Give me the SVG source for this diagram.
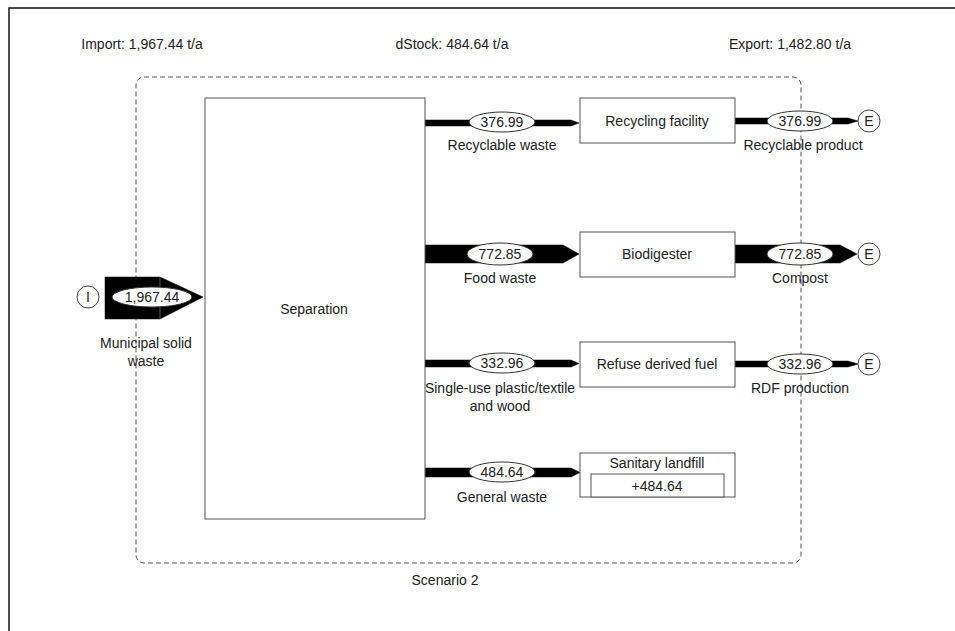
<svg xmlns="http://www.w3.org/2000/svg" width="955" height="631" viewBox="0 0 955 631">
<style>
text{font-family:"Liberation Sans",Arial,sans-serif;font-size:14px;fill:#222;text-anchor:middle}
.box{fill:#fff;stroke:#555;stroke-width:1}
.flow{fill:#000;stroke:#000;stroke-width:0.5}
.lab{fill:#fff;stroke:#333;stroke-width:1}
.end{fill:#fff;stroke:#444;stroke-width:1}
</style>
<rect x="0" y="0" width="955" height="631" fill="#fff"/>
<rect x="9" y="8" width="960" height="640" fill="none" stroke="#111" stroke-width="1.5"/>
<text x="142" y="49">Import: 1,967.44 t/a</text>
<text x="452" y="49">dStock: 484.64 t/a</text>
<text x="790" y="49">Export: 1,482.80 t/a</text>
<rect x="136" y="77" width="665" height="486" rx="8" fill="none" stroke="#555" stroke-width="1" stroke-dasharray="5,3"/>
<text x="445" y="585">Scenario 2</text>
<g id="connectors">
  <g id="f-msw">
    <path class="flow" d="M105,277 L160,277 L203,297 L160,319 L105,319 Z"/>
    <line x1="160" y1="277" x2="160" y2="319" stroke="#555" stroke-width="1"/>
    <ellipse class="lab" cx="152" cy="297" rx="40" ry="10"/>
    <text x="152" y="302">1,967.44</text>
    <text x="146" y="348">Municipal solid</text>
    <text x="146" y="366">waste</text>
  </g>
  <g id="f-recyc">
    <path class="flow" d="M425,120 L571,120 L579,123 L571,126 L425,126 Z"/>
    <ellipse class="lab" cx="502" cy="122" rx="33" ry="10"/>
    <text x="502" y="127">376.99</text>
    <text x="502" y="150">Recyclable waste</text>
  </g>
  <g id="f-recprod">
    <path class="flow" d="M735,118 L848,118 L858,121 L848,124 L735,124 Z"/>
    <ellipse class="lab" cx="800" cy="121" rx="33" ry="10"/>
    <text x="800" y="126">376.99</text>
    <text x="803" y="150">Recyclable product</text>
  </g>
  <g id="f-food">
    <path class="flow" d="M425,245 L563,245 L579,254 L563,263 L425,263 Z"/>
    <ellipse class="lab" cx="500" cy="254" rx="33" ry="11"/>
    <text x="500" y="259">772.85</text>
    <text x="500" y="283">Food waste</text>
  </g>
  <g id="f-compost">
    <path class="flow" d="M735,245 L840,245 L857,254 L840,263 L735,263 Z"/>
    <ellipse class="lab" cx="800" cy="254" rx="33" ry="11"/>
    <text x="800" y="259">772.85</text>
    <text x="800" y="283">Compost</text>
  </g>
  <g id="f-plastic">
    <path class="flow" d="M425,360 L571,360 L579,363.5 L571,367 L425,367 Z"/>
    <ellipse class="lab" cx="502" cy="363" rx="33" ry="10"/>
    <text x="502" y="368">332.96</text>
    <text x="500" y="393">Single-use plastic/textile</text>
    <text x="500" y="411">and wood</text>
  </g>
  <g id="f-rdf">
    <path class="flow" d="M735,361 L848,361 L858,364 L848,367 L735,367 Z"/>
    <ellipse class="lab" cx="800" cy="364" rx="33" ry="10"/>
    <text x="800" y="369">332.96</text>
    <text x="800" y="393">RDF production</text>
  </g>
  <g id="f-general">
    <path class="flow" d="M425,468 L571,468 L580,472.5 L571,477 L425,477 Z"/>
    <ellipse class="lab" cx="502" cy="472" rx="33" ry="10"/>
    <text x="502" y="477">484.64</text>
    <text x="502" y="502">General waste</text>
  </g>
</g>
<g id="import">
  <circle class="end" cx="88" cy="297" r="11"/>
  <text x="88" y="302">I</text>
</g>
<g id="separation">
  <rect class="box" x="205" y="98" width="220" height="421"/>
  <text x="314" y="314">Separation</text>
</g>
<g id="recycling">
  <rect class="box" x="580" y="98" width="155" height="45"/>
  <text x="657" y="126">Recycling facility</text>
</g>
<g id="biodigester">
  <rect class="box" x="580" y="232" width="155" height="45"/>
  <text x="657" y="259">Biodigester</text>
</g>
<g id="rdf">
  <rect class="box" x="580" y="342" width="155" height="45"/>
  <text x="657" y="369">Refuse derived fuel</text>
</g>
<g id="landfill">
  <rect class="box" x="580" y="453" width="155" height="44"/>
  <rect class="box" x="591" y="474" width="133" height="23"/>
  <text x="657" y="468">Sanitary landfill</text>
  <text x="657" y="491">+484.64</text>
</g>
<g id="e1"><circle class="end" cx="869" cy="121" r="11"/><text x="869" y="126">E</text></g>
<g id="e2"><circle class="end" cx="869" cy="254" r="11"/><text x="869" y="259">E</text></g>
<g id="e3"><circle class="end" cx="869" cy="364" r="11"/><text x="869" y="369">E</text></g>
</svg>
